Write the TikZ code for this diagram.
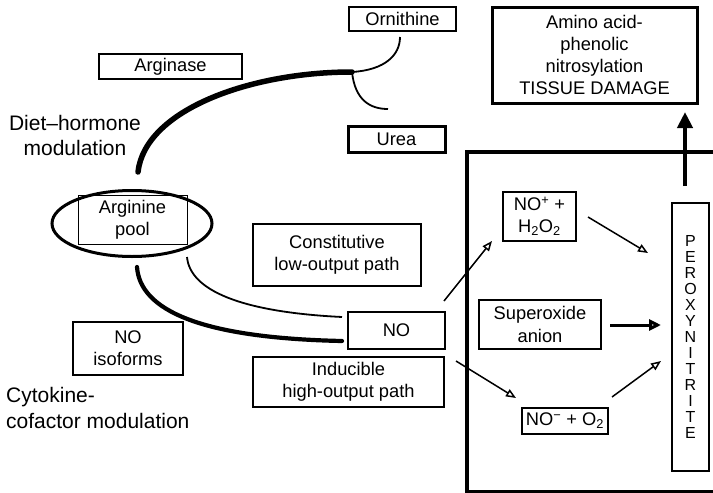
\documentclass[tikz,border=0pt]{standalone}
\usepackage{fontspec}
\setmainfont{Liberation Sans}
\usetikzlibrary{arrows.meta,shapes.geometric}
\begin{document}
\begin{tikzpicture}[x=1pt,y=-1pt,
  box/.style={draw, line width=1.6pt, inner sep=0pt, align=center, font=\fontsize{18.3}{22.3}\selectfont},
  thickbox/.style={box, line width=3pt},
  lbl/.style={inner sep=0pt, font=\fontsize{21}{25.5}\selectfont},
  arr/.style={line width=1.5pt, -{Triangle[open, length=10pt, width=8pt]}},
  thinpath/.style={line width=1.8pt},
  heavypath/.style={line width=5.5pt, line cap=round},
]
\useasboundingbox (0,0) rectangle (713,493);

% boxes
\node[box, minimum width=107pt, minimum height=24pt] (orn) at (402.5,19) {Ornithine};
\node[box, minimum width=143pt, minimum height=25pt] (argase) at (170.5,66.5) {Arginase};
\node[thickbox, minimum width=97pt, minimum height=26pt] (urea) at (396.5,139) {Urea};
\node[thickbox, minimum width=205pt, minimum height=96pt] (amino) at (594.5,55) {Amino acid-\\phenolic\\nitrosylation\\TISSUE DAMAGE};
\node[box, minimum width=168pt, minimum height=62pt] (const) at (337,255) {Constitutive\\low-output path};
\node[box, minimum width=97pt, minimum height=37pt] (no) at (396.5,330.5) {NO};
\node[box, minimum width=191pt, minimum height=50pt] (induc) at (348.5,382) {Inducible\\high-output path};
\node[box, minimum width=110pt, minimum height=53pt] (iso) at (128,348.5) {NO\\isoforms};
\node[box, minimum width=73pt, minimum height=49pt] (noplus) at (539.5,216.5) {NO\textsuperscript{+} +\\H\textsubscript{2}O\textsubscript{2}};
\node[box, minimum width=122pt, minimum height=49pt] (super) at (540,324.5) {Superoxide\\anion};
\node[box, minimum width=86pt, minimum height=26pt] (nominus) at (565,421) {NO\textsuperscript{−} + O\textsubscript{2}};
\node[box, minimum width=37pt, minimum height=268pt, font=\fontsize{16}{16}\selectfont] (per) at (690.5,337) {P\\E\\R\\O\\X\\Y\\N\\I\\T\\R\\I\\T\\E};

% arginine pool
\node[draw, ellipse, line width=3pt, minimum width=160pt, minimum height=66pt, inner sep=0pt] (argell) at (132,223.5) {};
\node[draw, line width=0.7pt, minimum width=109pt, minimum height=49pt, inner sep=0pt, align=center, font=\fontsize{18.3}{22.3}\selectfont] (arg) at (132.5,219.5) {Arginine\\pool};

% labels
\node[lbl, align=center] (diet) at (75,135.5) {Diet–hormone\\modulation};
\node[lbl, align=left, anchor=west] (cyto) at (6,408) {Cytokine-\\cofactor modulation};

% big compartment
\draw[line width=3.5pt] (713,152) -- (467,152) -- (467,492) -- (713,492);

% connector end points
\coordinate (argtop) at (138,172);
\coordinate (junc) at (352,72);
\coordinate (ornend) at (400,37);
\coordinate (ureaend) at (388,109);
\coordinate (argR) at (187,257);
\coordinate (argB) at (137,267);
\coordinate (noL1) at (342,317);
\coordinate (noL2) at (342,341);
\coordinate (a1s) at (444,301);
\coordinate (a1e) at (492,241);
\coordinate (a2s) at (588,217);
\coordinate (a2e) at (648,253);
\coordinate (a3s) at (456,361);
\coordinate (a3e) at (516,398);
\coordinate (a4s) at (612,397);
\coordinate (a4e) at (661,361);
\coordinate (a5s) at (610,325);
\coordinate (a5e) at (661,325);
\coordinate (ups) at (685,186);
\coordinate (upe) at (685,112);

% curves
\draw[heavypath] (argtop) .. controls (145,110) and (250,72) .. (junc);
\draw[thinpath] (junc) .. controls (385,70) and (400,55) .. (ornend);
\draw[thinpath] (junc) .. controls (355,100) and (370,109) .. (ureaend);
\draw[thinpath] (argR) .. controls (190,290) and (240,312) .. (noL1);
\draw[line width=4.2pt, line cap=round] (argB) .. controls (140,310) and (200,338) .. (noL2);

% arrows
\draw[arr] (a1s) -- (a1e);
\draw[arr] (a2s) -- (a2e);
\draw[arr] (a3s) -- (a3e);
\draw[arr] (a4s) -- (a4e);
\draw[line width=3pt, -{Triangle[open, length=12pt, width=11pt]}] (a5s) -- (a5e);
\draw[line width=4pt, -{Triangle[length=16pt, width=15pt]}] (ups) -- (upe);
\end{tikzpicture}
\end{document}
